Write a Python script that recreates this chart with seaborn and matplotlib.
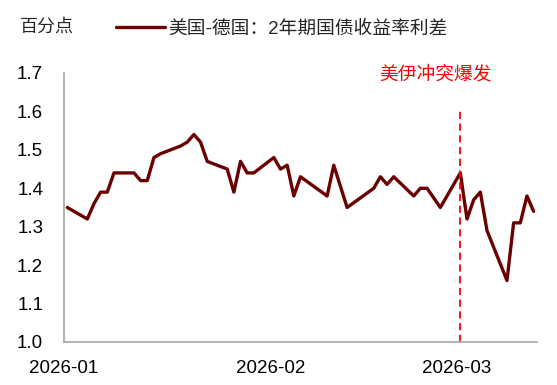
import seaborn as sns
import matplotlib.pyplot as plt
import matplotlib.dates as mdates
import pandas as pd

sns.set_style("white")
plt.rcParams['font.family'] = ['Liberation Sans', 'Noto Sans CJK SC']

# US-Germany 2Y government bond yield spread (percentage points)
dates = ["2026-01-01", "2026-01-04", "2026-01-05", "2026-01-06", "2026-01-07",
         "2026-01-08", "2026-01-11", "2026-01-12", "2026-01-13", "2026-01-14",
         "2026-01-15", "2026-01-18", "2026-01-19", "2026-01-20", "2026-01-21",
         "2026-01-22", "2026-01-25", "2026-01-26", "2026-01-27", "2026-01-28",
         "2026-01-29", "2026-02-01", "2026-02-02", "2026-02-03", "2026-02-04",
         "2026-02-05", "2026-02-09", "2026-02-10", "2026-02-12", "2026-02-16",
         "2026-02-17", "2026-02-18", "2026-02-19", "2026-02-22", "2026-02-23",
         "2026-02-24", "2026-02-26", "2026-03-01", "2026-03-02", "2026-03-03",
         "2026-03-04", "2026-03-05", "2026-03-08", "2026-03-09", "2026-03-10",
         "2026-03-11", "2026-03-12"]
spread = [1.35, 1.32, 1.36, 1.39, 1.39,
          1.44, 1.44, 1.42, 1.42, 1.48,
          1.49, 1.51, 1.52, 1.54, 1.52,
          1.47, 1.45, 1.39, 1.47, 1.44,
          1.44, 1.48, 1.45, 1.46, 1.38,
          1.43, 1.38, 1.46, 1.35, 1.40,
          1.43, 1.41, 1.43, 1.38, 1.40,
          1.40, 1.35, 1.44, 1.32, 1.37,
          1.39, 1.29, 1.16, 1.31, 1.31,
          1.38, 1.34]
event_date = "2026-03-01"
event_label = "美伊冲突爆发"
series_label = "美国-德国：2年期国债收益率利差"
y_unit = "百分点"
y_ticks = [1.0, 1.1, 1.2, 1.3, 1.4, 1.5, 1.6, 1.7]

df = pd.DataFrame({"date": pd.to_datetime(dates), "spread": spread})
# each day sits in the middle of its slot on the date axis
df["date"] = df["date"] + pd.Timedelta(hours=12)

fig = plt.figure(figsize=(5.57, 3.85), dpi=100)
ax = fig.add_axes([0.1149, 0.1117, 0.8491, 0.6987])

sns.lineplot(data=df, x="date", y="spread", color="#6B0000", linewidth=2.4,
             label=series_label, ax=ax)

event_x = pd.Timestamp(event_date) + pd.Timedelta(hours=12)
ax.plot([event_x, event_x], [1.0, 1.61], color="#FF0000", linewidth=1.3,
        linestyle=(0, (4, 2.5)), clip_on=False)
ax.text(0.786, 1.695, event_label, color="#FF0000", fontsize=13.5,
        ha="center", va="center", transform=ax.get_yaxis_transform())

ax.set_xlim(pd.Timestamp("2026-01-01"), pd.Timestamp("2026-03-13"))
ax.set_ylim(1.0, 1.7)
ax.set_yticks(y_ticks)
ax.yaxis.set_major_formatter(plt.FormatStrFormatter("%.1f"))
ax.xaxis.set_major_locator(mdates.MonthLocator())
ax.xaxis.set_major_formatter(mdates.DateFormatter("%Y-%m"))

ax.set_xlabel("")
ax.set_ylabel("")
for side in ["top", "right"]:
    ax.spines[side].set_visible(False)
for side in ["left", "bottom"]:
    ax.spines[side].set_color("#A6A6A6")
    ax.spines[side].set_linewidth(1.2)
ax.tick_params(axis="both", direction="in", length=4, color="#A6A6A6",
               labelsize=13.5, labelcolor="black")
ax.tick_params(axis="x", pad=13)
ax.tick_params(axis="y", pad=15)

ax.legend(loc="center left", bbox_to_anchor=(0.095, 1.163), frameon=False,
          fontsize=13.5, handlelength=2.6, handletextpad=0.15, borderaxespad=0)
fig.text(0.036, 0.93, y_unit, fontsize=13, ha="left", va="center")

plt.savefig("out.png", dpi=100)
plt.close(fig)
